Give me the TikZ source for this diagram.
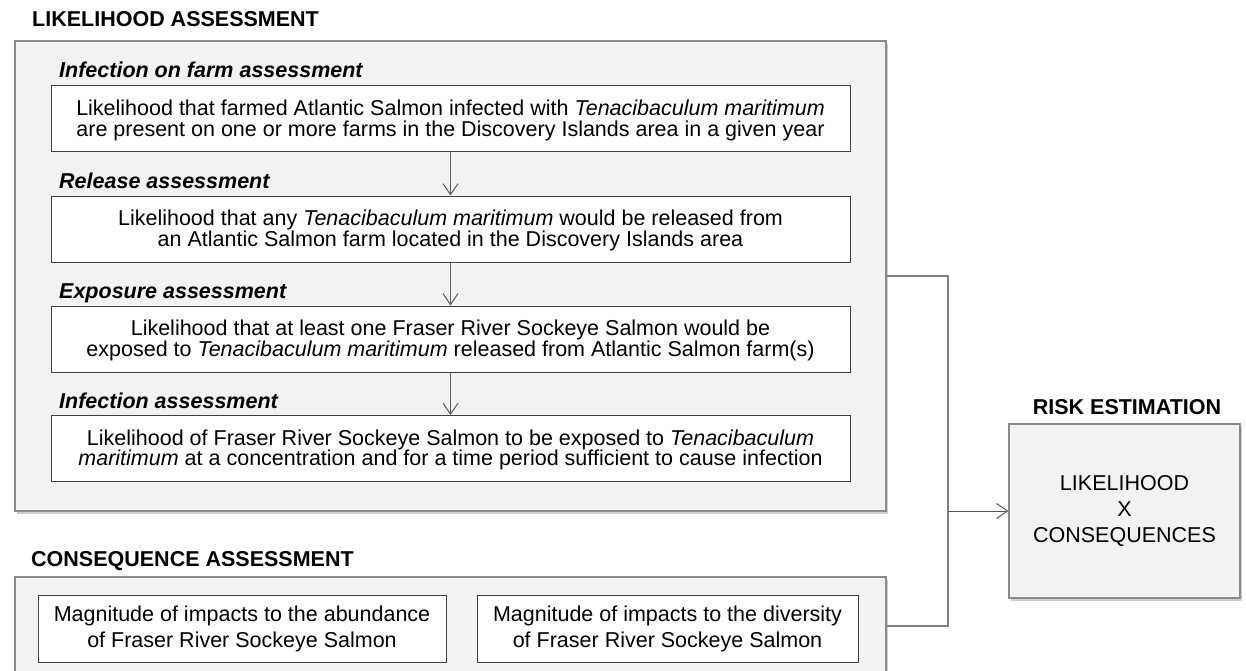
\documentclass[tikz,border=0pt]{standalone}
\usepackage{fontspec}
\setmainfont{Liberation Sans}
\usetikzlibrary{arrows.meta,shadows,calc}
\definecolor{panelfill}{HTML}{F2F2F2}
\definecolor{panelline}{HTML}{8A8A8A}
\definecolor{boxline}{HTML}{404040}
\definecolor{arrowline}{HTML}{595959}
\definecolor{linkline}{HTML}{808080}
\begin{document}
\begin{tikzpicture}[x=1pt,y=-1pt,
  panel/.style={draw=panelline, line width=1.2pt, fill=panelfill, inner sep=0pt,
    drop shadow={shadow xshift=2pt, shadow yshift=-3pt, opacity=0.35, fill=black!55}},
  stepbox/.style={draw=boxline, line width=1pt, fill=white, align=center, inner sep=0pt,
    minimum height=66pt, font=\fontsize{21.5}{20.5}\selectfont},
  heading/.style={anchor=base west, inner sep=0pt, font=\fontsize{21.5}{24}\selectfont\bfseries},
  subheading/.style={anchor=base west, inner sep=0pt, font=\fontsize{21.5}{24}\selectfont\bfseries\itshape},
  flow/.style={draw=arrowline, line width=1pt, -{Straight Barb[length=11pt,width=15pt]}},
  link/.style={draw=linkline, line width=1.5pt},
]
\useasboundingbox (0,0) rectangle (1246,671);
\clip (0,0) rectangle (1246,671);

% likelihood panel
\node[heading] (hL) at (32,27) {LIKELIHOOD ASSESSMENT};
\node[panel, minimum width=871pt, minimum height=470pt] (L) at (450.5,276) {};

\node[subheading] (s1) at (59,78) {Infection on farm assessment};
\node[stepbox, minimum width=799pt] (b1) at (450.5,119)
  {\rule{0pt}{18pt}Likelihood that farmed Atlantic Salmon infected with \textit{Tenacibaculum maritimum}\\
   are present on one or more farms in the Discovery Islands area in a given year};

\node[subheading] (s2) at (59,188) {Release assessment};
\node[stepbox, minimum width=799pt] (b2) at (450.5,229)
  {\rule{0pt}{18pt}Likelihood that any \textit{Tenacibaculum maritimum} would be released from\\
   an Atlantic Salmon farm located in the Discovery Islands area};

\node[subheading] (s3) at (59,298) {Exposure assessment};
\node[stepbox, minimum width=799pt] (b3) at (450.5,339)
  {\rule{0pt}{18pt}Likelihood that at least one Fraser River Sockeye Salmon would be\\
   exposed to \textit{Tenacibaculum maritimum} released from Atlantic Salmon farm(s)};

\node[subheading] (s4) at (59,408) {Infection assessment};
\node[stepbox, minimum width=799pt] (b4) at (450.5,448.5)
  {\rule{0pt}{18pt}Likelihood of Fraser River Sockeye Salmon to be exposed to \textit{Tenacibaculum}\\
   \textit{maritimum} at a concentration and for a time period sufficient to cause infection};

\draw[flow] (b1) -- (b2);
\draw[flow] (b2) -- (b3);
\draw[flow] (b3) -- (b4);

% consequence panel
\node[heading] (hC) at (31,566) {CONSEQUENCE ASSESSMENT};
\node[panel, minimum width=871pt, minimum height=123pt] (C) at (450.5,638.5) {};
\node[stepbox, minimum width=408pt, minimum height=67pt, font=\fontsize{21.5}{26.5}\selectfont] (c1) at (242,629)
  {Magnitude of impacts to the abundance\\ of Fraser River Sockeye Salmon};
\node[stepbox, minimum width=381pt, minimum height=67pt, font=\fontsize{21.5}{26.5}\selectfont] (c2) at (667.5,629)
  {Magnitude of impacts to the diversity\\ of Fraser River Sockeye Salmon};

% risk estimation
\node[anchor=base, inner sep=0pt, font=\fontsize{21.5}{24}\selectfont\bfseries] (hR) at (1127,414) {RISK ESTIMATION};
\node[panel, minimum width=231pt, minimum height=174pt, align=center,
  font=\fontsize{21.5}{26}\selectfont] (R) at (1124.5,511) {LIKELIHOOD\\ X\\ CONSEQUENCES};

% connectors
\coordinate (j1) at (948,276);
\coordinate (j2) at (948,626);
\coordinate (jm) at (948,511);
\draw[link] (L.east |- j1) -- (j1) -- (j2) -- (C.east |- j2);
\draw[flow] (jm) -- (R.west);
\end{tikzpicture}
\end{document}
